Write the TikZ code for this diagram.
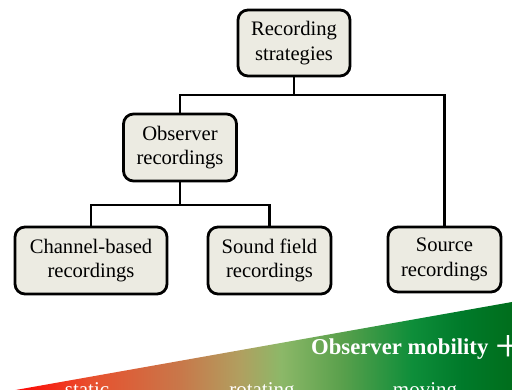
\documentclass[tikz,border=0pt]{standalone}
\usepackage{fontspec}
\setmainfont{Liberation Serif}
\definecolor{boxfill}{HTML}{ECEBE2}
\definecolor{gA}{HTML}{E8502E}
\definecolor{gB}{HTML}{C8784A}
\definecolor{gC}{HTML}{B0A060}
\definecolor{gD}{HTML}{8CB868}
\definecolor{gE}{HTML}{5AA04C}
\definecolor{gF}{HTML}{0E8E3A}
\definecolor{gG}{HTML}{007A2A}
\definecolor{gH}{HTML}{006E1C}
\pgfdeclarehorizontalshading{mobility}{100bp}{color(0bp)=(red); color(25bp)=(red); color(33bp)=(gA); color(42bp)=(gB); color(48bp)=(gC); color(52bp)=(gD); color(58bp)=(gE); color(65bp)=(gF); color(70bp)=(gG); color(75bp)=(gH); color(100bp)=(gH)}
\begin{document}
\begin{tikzpicture}[x=1pt,y=-1pt,
  box/.style={draw=black, line width=2.8pt, fill=boxfill, rounded corners=10pt,
    align=center, inner sep=0pt, font=\fontsize{20.6}{24.5}\selectfont},
  link/.style={draw=black, line width=2.8pt},
  lbl/.style={text=white, font=\fontsize{21}{24}\selectfont, inner sep=0pt, anchor=base}]
\useasboundingbox (0,0) rectangle (512,390);
% gradient wedge
\shade[shading=mobility] (10,391) -- (512,302) -- (512,391) -- cycle;
% nodes
\node[box, minimum width=112pt, minimum height=66pt] (root) at (294,43) {Recording\\strategies};
\node[box, minimum width=113pt, minimum height=67pt] (obs) at (180,147.5) {Observer\\recordings};
\node[box, minimum width=152pt, minimum height=67pt] (chan) at (91,260.5) {Channel-based\\recordings};
\node[box, minimum width=123pt, minimum height=67pt] (sf) at (269.5,260.5) {Sound field\\recordings};
\node[box, minimum width=113pt, minimum height=65pt] (src) at (444.5,259.5) {Source\\recordings};
% connectors
\coordinate (j1) at (294,95);
\coordinate (j2) at (180,205);
\draw[link] (root.south) -- (j1);
\draw[link] (obs.north) |- (j1) -| (src.north);
\draw[link] (obs.south) -- (j2);
\draw[link] (chan.north) |- (j2) -| (sf.north);
% labels on wedge
\node[lbl, anchor=base west, font=\fontsize{22.7}{26}\selectfont\bfseries] (mob) at (311,355) {Observer mobility};
\node[lbl, anchor=center, font=\fontsize{46}{46}\selectfont] (plus) at (508,349) {+};
\node[lbl] (st) at (87,396) {static};
\node[lbl] (rot) at (262,396) {rotating};
\node[lbl] (mov) at (425,396) {moving};
\end{tikzpicture}
\end{document}
